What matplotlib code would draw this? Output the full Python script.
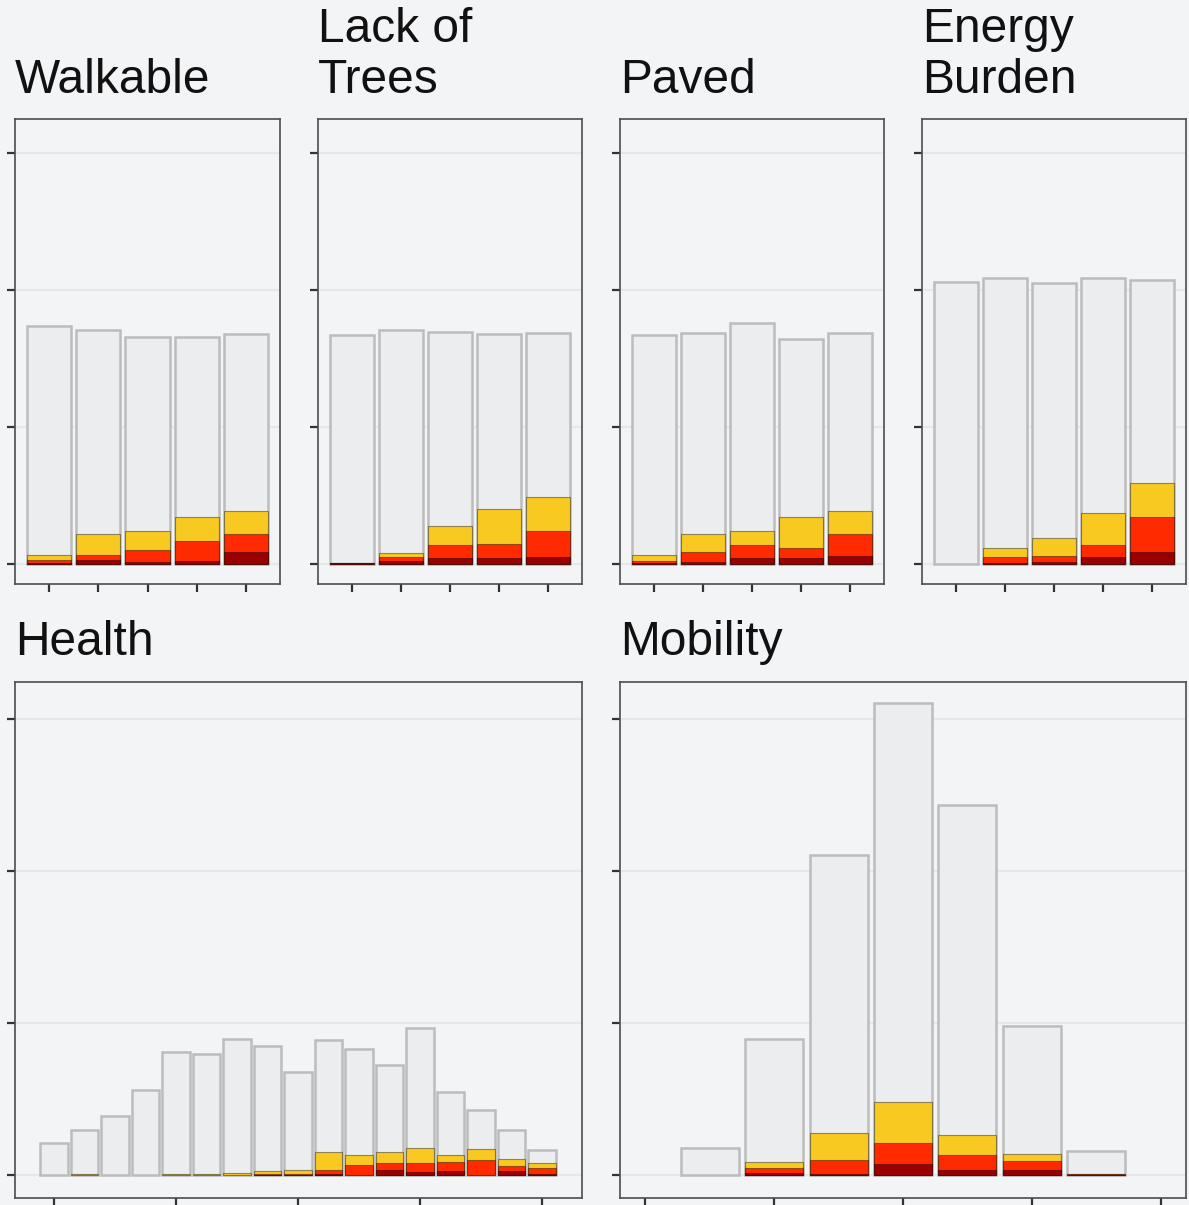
import matplotlib
matplotlib.use("Agg")
import matplotlib.pyplot as plt
import numpy as np

# ---- data -------------------------------------------------------------
walkable_total = [173.4, 170.8, 165.7, 165.4, 167.6]
walkable_low = [6.6, 21.6, 23.6, 33.8, 38.7]
walkable_mid = [3.0, 6.6, 9.7, 16.8, 21.6]
walkable_high = [0.4, 3.0, 1.0, 1.9, 8.8]

trees_total = [166.9, 170.3, 169.3, 167.9, 168.6]
trees_low = [0.8, 7.5, 27.7, 39.6, 48.6]
trees_mid = [0.8, 4.6, 13.9, 14.6, 23.8]
trees_high = [0.5, 1.9, 3.9, 3.9, 4.8]

paved_total = [166.9, 168.6, 175.4, 163.7, 168.6]
paved_low = [6.6, 21.6, 23.8, 33.8, 38.7]
paved_mid = [1.9, 8.8, 13.9, 11.7, 21.6]
paved_high = [0.3, 1.0, 3.9, 3.9, 5.8]

energy_total = [205.5, 208.5, 204.8, 208.5, 207.3]
energy_low = [0.0, 11.7, 19.0, 36.7, 58.6]
energy_mid = [0.0, 4.6, 5.8, 13.9, 33.8]
energy_high = [0.0, 0.7, 1.2, 4.8, 8.8]

health_total = [21.1, 29.8, 39.0, 56.1, 81.1, 80.0, 89.9, 84.9, 68.0,
                89.0, 82.9, 72.8, 96.9, 54.8, 43.0, 29.8, 17.0]
health_low = [0, 1.0, 0, 0, 1.0, 1.0, 1.8, 2.8, 3.7,
              15.6, 13.8, 15.6, 17.8, 13.8, 17.6, 10.7, 7.9]
health_mid = [0, 0, 0, 0, 0, 0, 0, 1.1, 1.3,
              3.7, 7.0, 7.9, 7.9, 8.8, 9.9, 6.1, 4.6]
health_high = [0, 0, 0, 0, 0, 0, 0, 0.4, 0.6,
               1.1, 0, 3.7, 2.0, 2.9, 0, 2.9, 1.1]

mobility_total = [18.4, 89.5, 210.5, 310.5, 243.4, 98.2, 16.2]
mobility_low = [0, 9.2, 28.1, 48.2, 26.3, 14.3, 1.2]
mobility_mid = [0, 5.1, 10.3, 21.3, 13.2, 9.5, 0.8]
mobility_high = [0, 1.6, 1.3, 7.7, 3.5, 3.5, 0.3]

titles = ["Walkable", "Lack of\nTrees", "Paved", "Energy\nBurden", "Health", "Mobility"]
y_ticks = [0, 100, 200, 300]

# ---- style ------------------------------------------------------------
BG = "#f3f4f6"
BAR_FILL = "#ecedef"
BAR_EDGE = "#bcbcbc"
LAYER_COLORS = ["#f8c921", "#ff2a00", "#9a0000"]
FRAME = "#4d4d4d"

W, H = 1189, 1205
fig = plt.figure(figsize=(W / 100, H / 100), dpi=100, facecolor=BG)


def px_axes(x0, y0, x1, y1):
    return fig.add_axes([x0 / W, 1 - y1 / H, (x1 - x0) / W, (y1 - y0) / H])


def draw_panel(ax, x, total, layers, xlim, xticks):
    ax.set_facecolor(BG)
    ax.bar(x, total, width=0.9, color=BAR_FILL, edgecolor=BAR_EDGE,
           linewidth=1.8, zorder=2)
    for vals, col in zip(layers, LAYER_COLORS):
        vals = np.asarray(vals, dtype=float)
        keep = vals > 0
        ax.bar(np.asarray(x)[keep], vals[keep], width=0.9, color=col,
               edgecolor=(0, 0, 0, 0.4), linewidth=0.8, zorder=3)
    ax.set_xlim(*xlim)
    ax.set_ylim(-14.8, 324.5)
    ax.set_yticks(y_ticks)
    ax.set_xticks(xticks)
    ax.set_yticklabels([])
    ax.set_xticklabels([])
    ax.tick_params(length=5.5, width=1.6, color="#333333", direction="out")
    ax.grid(axis="y", color="#e6e7e9", linewidth=1.5, zorder=0)
    ax.set_axisbelow(True)
    for s in ax.spines.values():
        s.set_color(FRAME)
        s.set_linewidth(1.2)


def draw_title(ax_left_px, baseline_px, text):
    lines = text.split("\n")
    n = len(lines)
    for i, line in enumerate(lines):
        y = baseline_px - (n - 1 - i) * 51
        fig.text(ax_left_px / W, 1 - y / H, line, ha="left", va="baseline",
                 fontsize=34.5, family="Liberation Sans", color="#111111")


top_x = [(15, 280), (318, 582), (620, 884), (922, 1186)]
top_data = [
    (walkable_total, [walkable_low, walkable_mid, walkable_high]),
    (trees_total, [trees_low, trees_mid, trees_high]),
    (paved_total, [paved_low, paved_mid, paved_high]),
    (energy_total, [energy_low, energy_mid, energy_high]),
]
for (x0, x1), (tot, lay), title in zip(top_x, top_data, titles[:4]):
    ax = px_axes(x0, 119, x1, 584)
    xs = np.arange(1, len(tot) + 1)
    draw_panel(ax, xs, tot, lay, (0.31, 5.69), xs)
    draw_title(x0, 93, title)

ax_h = px_axes(15, 682, 582, 1198)
xs_h = np.arange(1, len(health_total) + 1)
draw_panel(ax_h, xs_h, health_total, [health_low, health_mid, health_high],
           (-0.28, 18.31), [1, 5, 9, 13, 17])
draw_title(15, 655, titles[4])

ax_m = px_axes(620, 682, 1186, 1198)
xs_m = np.arange(1, len(mobility_total) + 1)
draw_panel(ax_m, xs_m, mobility_total, [mobility_low, mobility_mid, mobility_high],
           (-0.39, 8.39), [0, 2, 4, 6, 8])
draw_title(620, 655, titles[5])

fig.savefig("out.png", dpi=100, facecolor=BG)
